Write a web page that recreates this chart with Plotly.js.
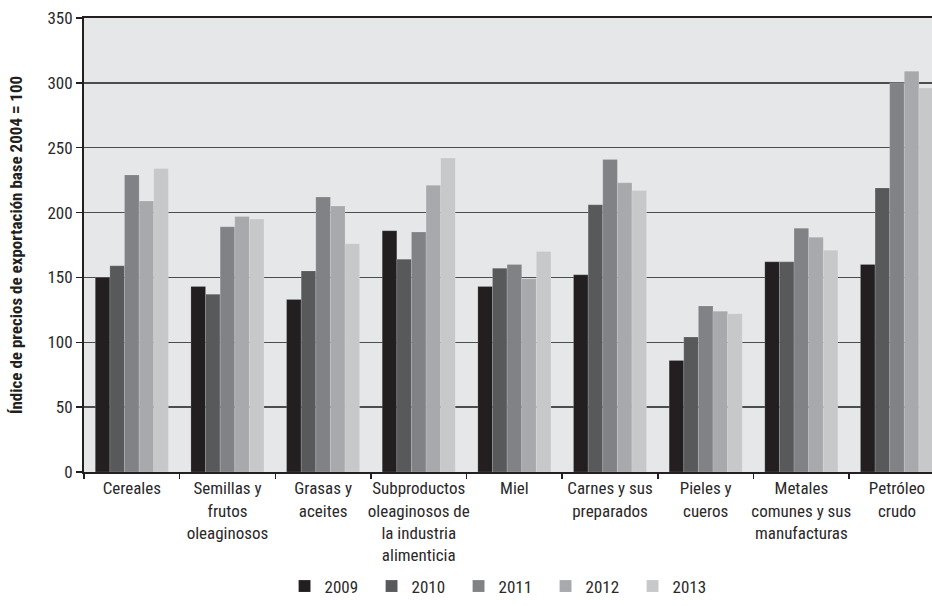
<!DOCTYPE html>
<html>
<head>
<meta charset="utf-8">
<script src="https://cdn.plot.ly/plotly-3.0.1.min.js"></script>
<style>
html,body{margin:0;padding:0;background:#fff;}
#chart{width:932px;height:606px;}
</style>
</head>
<body>
<div id="chart"></div>
<script>
const categories = [
  "Cereales",
  "Semillas y<br>frutos<br>oleaginosos",
  "Grasas y<br>aceites",
  "Subproductos<br>oleaginosos de<br>la industria<br>alimenticia",
  "Miel",
  "Carnes y sus<br>preparados",
  "Pieles y<br>cueros",
  "Metales<br>comunes y sus<br>manufacturas",
  "Petróleo<br>crudo"
];
const years = ["2009", "2010", "2011", "2012", "2013"];
const v2009 = [150, 143, 133, 186, 143, 152, 86, 162, 160];
const v2010 = [159, 137, 155, 164, 157, 206, 104, 162, 219];
const v2011 = [229, 189, 212, 185, 160, 241, 128, 188, 300];
const v2012 = [209, 197, 205, 221, 149, 223, 124, 181, 309];
const v2013 = [234, 195, 176, 242, 170, 217, 122, 171, 296];
const seriesValues = [v2009, v2010, v2011, v2012, v2013];
const colors = ["#231f20", "#58595b", "#808285", "#a7a9ac", "#c7c8ca"];

const FONT = '"Roboto Condensed", "Liberation Sans Narrow", sans-serif';

const traces = years.map((yr, i) => ({
  type: "bar",
  name: yr,
  x: categories,
  y: seriesValues[i],
  marker: {color: colors[i], line: {color: "rgba(255,255,255,0.25)", width: 0.6}},
  hoverinfo: "x+y+name"
}));

const layout = {
  width: 932,
  height: 606,
  margin: {l: 84, r: 0, t: 18, b: 134},
  paper_bgcolor: "#ffffff",
  plot_bgcolor: "#e6e7e8",
  barmode: "group",
  bargap: 0.236,
  bargroupgap: 0,
  font: {family: FONT, size: 17, color: "#2b2829"},
  showlegend: true,
  legend: {
    orientation: "h",
    x: 0.493, xanchor: "center",
    y: -0.292, yanchor: "bottom",
    font: {family: FONT, size: 17, color: "#2b2829"},
    itemwidth: 30,
    entrywidth: 42,
    entrywidthmode: "pixels",
    traceorder: "normal"
  },
  xaxis: {
    type: "category",
    range: [-0.5, 8.366],
    showgrid: false,
    showline: true,
    linecolor: "#231f20",
    linewidth: 2,
    mirror: true,
    ticks: "outside",
    tickson: "boundaries",
    ticklen: 5,
    tickwidth: 1.5,
    tickcolor: "#231f20",
    tickangle: 0,
    tickfont: {family: FONT, size: 17, color: "#2b2829"},
    automargin: false,
    fixedrange: true
  },
  yaxis: {
    range: [0, 350],
    dtick: 50,
    tick0: 0,
    showgrid: true,
    gridcolor: "#4d4d4f",
    gridwidth: 1.5,
    zeroline: false,
    showline: true,
    linecolor: "#231f20",
    linewidth: 2,
    ticks: "outside",
    ticklen: 6,
    tickwidth: 1.5,
    tickcolor: "#231f20",
    tickfont: {family: FONT, size: 17, color: "#2b2829"},
    title: {
      text: "Índice de precios de exportación base 2004 = 100",
      font: {family: FONT, size: 17, color: "#231f20", weight: "bold"},
      standoff: 20
    },
    automargin: false,
    fixedrange: true
  }
};

Plotly.newPlot("chart", traces, layout, {displayModeBar: false, staticPlot: true});
</script>
</body>
</html>
